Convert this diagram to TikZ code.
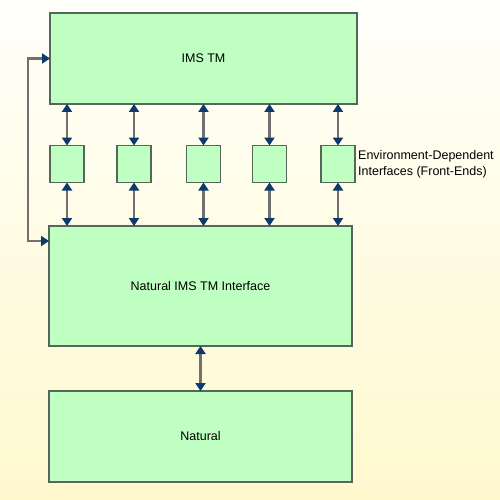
\documentclass[tikz,border=0pt]{standalone}
\usepackage{fontspec}
\setmainfont{Liberation Sans}
\usetikzlibrary{arrows.meta, positioning, calc}

\definecolor{boxfill}{HTML}{BFFFC1}
\definecolor{boxline}{HTML}{55665A}
\definecolor{linkgray}{HTML}{707070}
\definecolor{tipblue}{HTML}{0B3A6B}
\definecolor{bgtop}{HTML}{FFFFFA}
\definecolor{bgbottom}{HTML}{FFF8CE}

\begin{document}
\begin{tikzpicture}[
    x=1pt, y=-1pt,
    font=\fontsize{12.5}{16}\selectfont,
    unit/.style={rectangle, draw=boxline, fill=boxfill, line width=1.4pt,
                 inner sep=0pt, outer sep=0pt, text centered},
    frontend/.style={unit, minimum width=34pt, minimum height=37pt},
    link/.style={draw=linkgray, line width=2.4pt,
                 {Triangle[length=8pt,width=10pt,color=tipblue]}-{Triangle[length=8pt,width=10pt,color=tipblue]}}
  ]
  % background
  \shade[top color=bgtop, bottom color=bgbottom] (0,0) rectangle (500,500);
  \useasboundingbox (0,0) rectangle (500,500);

  \node (ims)     [unit, minimum width=307pt, minimum height=91pt]  at (203.5,58.5) {IMS TM};
  \node (iface)   [unit, minimum width=303pt, minimum height=120pt] at (200.5,286)  {Natural IMS TM Interface};
  \node (natural) [unit, minimum width=303pt, minimum height=91pt]  at (200.5,436.5) {Natural};

  \node (fe1) [frontend] at (67,164)    {};
  \node (fe2) [frontend] at (134,164)   {};
  \node (fe3) [frontend] at (203.5,164) {};
  \node (fe4) [frontend] at (269.5,164) {};
  \node (fe5) [frontend] at (338,164)   {};

  \node (felabel) [right=2pt of fe5, align=left, inner sep=1pt]
        {Environment-Dependent\\Interfaces (Front-Ends)};

  \foreach \i in {1,...,5} {
    \draw [link] (fe\i.north |- ims.south) -- (fe\i.north);
    \draw [link] (fe\i.south) -- (fe\i.south |- iface.north);
  }
  \draw [link] (iface.south) -- (natural.north);
  \draw [link] (ims.west) -- ++(-22,0) |- ([yshift=-15pt]iface.north west);
\end{tikzpicture}
\end{document}
